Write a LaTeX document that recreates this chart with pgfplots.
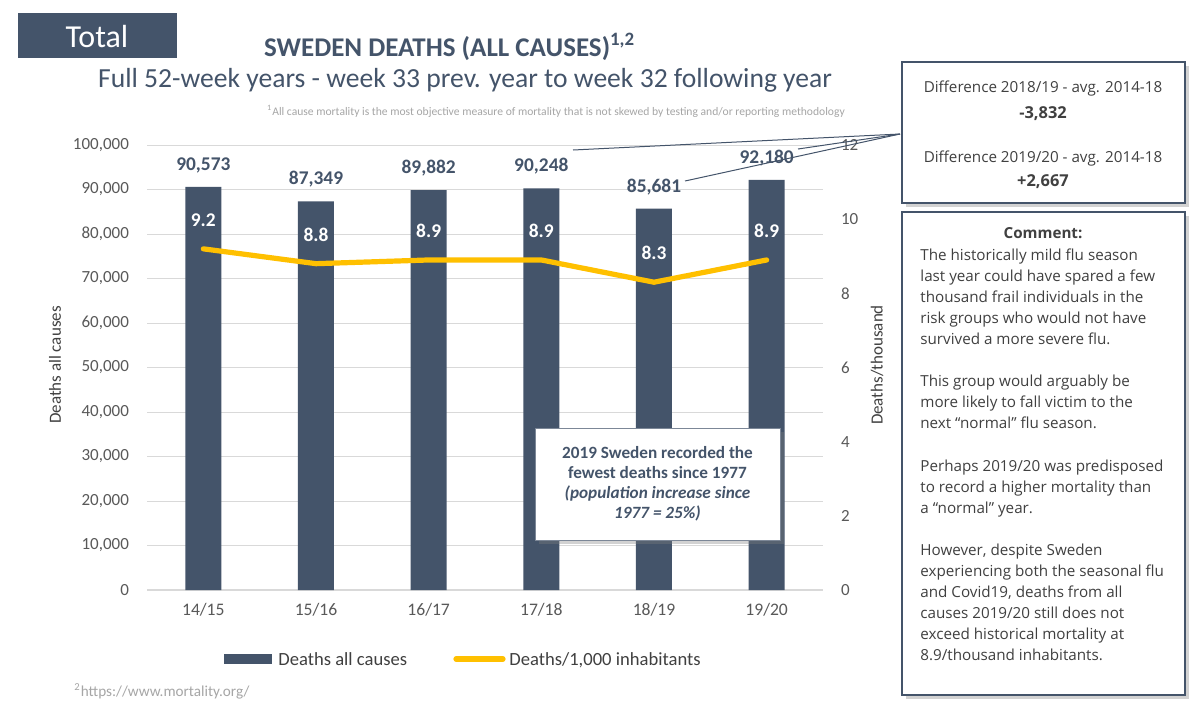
\documentclass[border=0pt]{standalone}
\usepackage{pgfplots}
\pgfplotsset{compat=1.18}
\usepackage{pgfplotstable}
\usepackage{fontspec}
\setmainfont{Carlito}
\newfontfamily\boxfont{Open Sans}
\usetikzlibrary{shadows}

\definecolor{bar}{HTML}{44546A}
\definecolor{gold}{HTML}{FFC000}
\definecolor{gridc}{HTML}{D9D9D9}
\definecolor{tickc}{HTML}{595959}
\definecolor{labc}{HTML}{404040}
\definecolor{notec}{HTML}{A6A6A6}

\newcommand\fs[1]{\fontsize{#1}{1.2\dimexpr#1pt\relax}\selectfont}

% seasons: deaths all causes and deaths per 1,000 inhabitants
\pgfplotstableread{
x deaths label rate
0 90573 90,573 9.2
1 87349 87,349 8.8
2 89882 89,882 8.9
3 90248 90,248 8.9
4 85681 85,681 8.3
5 92180 92,180 8.9
}\sweden

\pgfplotsset{
  swbase/.style={
    at={(73.5pt,-295pt)}, anchor=south west,
    width=338pt, height=222.5pt, scale only axis,
    xmin=-0.5, xmax=5.5,
    major tick length=0pt,
    clip=false,
    tick label style={font=\fs{8.5}, color=tickc},
    /pgf/number format/assume math mode=true,
  },
}

\begin{document}
\begin{tikzpicture}
\path[use as bounding box, fill=white] (0,0) rectangle (600pt,-357pt);

% bars, left axis
\begin{axis}[swbase,
  ymin=0, ymax=100000,
  ytick={0,10000,...,100000},
  scaled y ticks=false,
  yticklabel style={/pgf/number format/.cd, fixed, 1000 sep={,}},
  yticklabel shift=5.5pt,
  xtick={0,...,5},
  xticklabels={14/15,15/16,16/17,17/18,18/19,19/20},
  xticklabel style={font=\fs{8.8}},
  xticklabel shift=3pt,
  ymajorgrids,
  grid style={gridc, line width=0.5pt},
  axis x line*=bottom, axis y line*=left,
  y axis line style={draw=none},
  x axis line style={gridc, line width=0.7pt},
]
\addplot[ybar, bar width=18pt, fill=bar, draw=none,
  nodes near coords, point meta=explicit symbolic,
  every node near coord/.append style={font=\fs{9.7}\bfseries, color=bar, anchor=center, yshift=11pt}]
  table[x=x, y=deaths, meta=label] {\sweden};
\end{axis}

% rate line, right axis
\begin{axis}[swbase,
  ymin=0, ymax=12,
  ytick={0,2,...,12},
  yticklabel shift=5.5pt,
  axis x line=none,
  axis y line*=right,
  y axis line style={draw=none},
]
\addplot[gold, line width=2.6pt, line join=round, line cap=round, mark=none,
  nodes near coords, point meta=explicit symbolic,
  every node near coord/.append style={font=\fs{9.7}\bfseries, color=white, anchor=center, yshift=14.5pt}]
  table[x=x, y=rate, meta=rate] {\sweden};
\end{axis}

\begin{scope}[x=0.5pt, y=-0.5pt]
% header
\fill[bar] (18,13) rectangle (177,58);
\node[white, font=\fs{16}] at (97,36) {Total};
\node[bar, anchor=west, font=\fs{13.5}\bfseries] at (257,47) {SWEDEN DEATHS (ALL CAUSES)\textsuperscript{1,2}};
\node[bar, font=\fs{13.8}] at (465,80) {Full 52-week years - week 33 prev. year to week 32 following year};
\node[notec, font=\fs{5.8}] at (556,111) {\textsuperscript{1}All cause mortality is the most objective measure of mortality that is not skewed by testing and/or reporting methodology};

% axis titles
\node[labc, rotate=90, font=\fs{8.5}] at (55,365) {Deaths all causes};
\node[labc, rotate=90, font=\fs{8.5}] at (877,365) {Deaths/thousand};

% legend
\fill[bar] (224,654) rectangle (272,664);
\node[labc, anchor=base west, inner sep=0pt, font=\fs{9.3}] at (278,665) {Deaths all causes};
\draw[gold, line width=2.6pt, line cap=round] (456,659) -- (503,659);
\node[labc, anchor=base west, inner sep=0pt, font=\fs{9.3}] at (509,665) {Deaths/1,000 inhabitants};

\node[notec, anchor=base west, inner sep=0pt, font=\fs{7.6}] at (74,696) {\textsuperscript{2}https://www.mortality.org/};

% callout in the chart
\node[draw=bar!70, line width=0.5pt, fill=white, drop shadow={opacity=0.35, shadow xshift=2pt, shadow yshift=-2pt},
  minimum width=122.5pt, minimum height=56pt, align=center, text=bar,
  font=\fs{8.6}\bfseries, inner sep=0pt] at (657.5,484)
  {2019 Sweden recorded the\\[-0.3pt] fewest deaths since 1977\\[-0.3pt]
   \itshape (population increase since\\[-0.3pt] \itshape 1977 = 25\%)};

% connectors to the difference box
\draw[bar, line width=0.5pt] (573,150) -- (900,134);
\draw[bar, line width=0.5pt] (685,181) -- (900,134);
\draw[bar, line width=0.5pt] (798,149) -- (900,134);

% difference box
\node[draw=bar, line width=1pt, fill=white, drop shadow={opacity=0.35, shadow xshift=2pt, shadow yshift=-2pt},
  minimum width=141.5pt, minimum height=70.5pt, inner sep=0pt] at (1043,132.5) {};
\begin{scope}[every node/.style={labc, anchor=base, inner sep=0pt, font=\boxfont\fs{7.6}}]
\node at (1043,92) {Difference 2018/19 - avg. 2014-18};
\node[font=\boxfont\fs{8.2}\bfseries] at (1043,118) {-3,832};
\node at (1043,162) {Difference 2019/20 - avg. 2014-18};
\node[font=\boxfont\fs{8.2}\bfseries] at (1043,186) {+2,667};
\end{scope}

% comment box
\node[draw=bar, line width=1pt, fill=white, drop shadow={opacity=0.35, shadow xshift=2pt, shadow yshift=-2pt},
  minimum width=141.5pt, minimum height=241.5pt, inner sep=0pt] at (1043.5,453.5) {};
\node[labc, anchor=base, inner sep=0pt, font=\boxfont\fs{7.6}\bfseries] at (1043,238) {Comment:};
\begin{scope}[every node/.style={labc, anchor=base west, inner sep=0pt, font=\boxfont\fs{7.6}}]
\node at (920,260) {The historically mild flu season};
\node at (920,281) {last year could have spared a few};
\node at (920,302) {thousand frail individuals in the};
\node at (920,323) {risk groups who would not have};
\node at (920,344) {survived a more severe flu.};
\node at (920,386) {This group would arguably be};
\node at (920,407) {more likely to fall victim to the};
\node at (920,428) {next “normal” flu season.};
\node at (920,471) {Perhaps 2019/20 was predisposed};
\node at (920,492) {to record a higher mortality than};
\node at (920,513) {a “normal” year.};
\node at (920,555) {However, despite Sweden};
\node at (920,576) {experiencing both the seasonal flu};
\node at (920,597) {and Covid19, deaths from all};
\node at (920,618) {causes 2019/20 still does not};
\node at (920,639) {exceed historical mortality at};
\node at (920,660) {8.9/thousand inhabitants.};
\end{scope}
\end{scope}
\end{tikzpicture}
\end{document}
